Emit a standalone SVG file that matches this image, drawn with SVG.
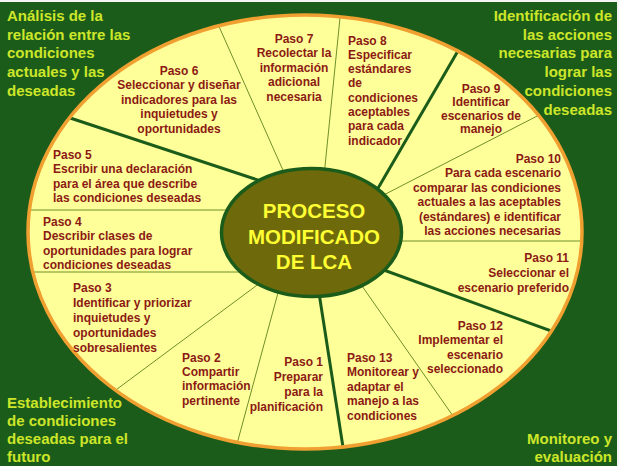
<svg xmlns="http://www.w3.org/2000/svg" width="619" height="466" viewBox="0 0 619 466">
<style>
.t{font-family:"Liberation Sans",Arial,sans-serif;font-weight:bold;font-size:12px;fill:#8b1a14}
.c{font-family:"Liberation Sans",Arial,sans-serif;font-weight:bold;font-size:15px;fill:#cce62a}
.m{font-family:"Liberation Sans",Arial,sans-serif;font-weight:bold;font-size:20.5px;fill:#ffff33;text-anchor:middle}
.thin{stroke:#6f8f2a;stroke-width:1;fill:none}
.thick{stroke:#1c5c1a;stroke-width:3;fill:none}
.mid{text-anchor:middle}
.end{text-anchor:end}
</style>
<defs>
<clipPath id="outerClip"><ellipse cx="305" cy="232" rx="277" ry="217"/></clipPath>
</defs>
<rect x="0" y="0" width="619" height="466" fill="#1c5c1a"/>
<rect x="0" y="0" width="619" height="2" fill="#f4f4f4"/>
<rect x="617" y="0" width="2" height="466" fill="#f4f4f4"/>
<g id="outer">
<ellipse cx="305" cy="232" rx="277" ry="217" fill="#ffff99"/>
</g>
<g id="connectors" clip-path="url(#outerClip)">
<line class="thin" x1="217" y1="22" x2="290" y2="186"/>
<line class="thin" x1="341" y1="8" x2="323" y2="186"/>
<line class="thick" x1="462" y1="44" x2="370" y2="202"/>
<line class="thin" x1="545" y1="112" x2="370" y2="202"/>
<line class="thin" x1="595" y1="241" x2="390" y2="241"/>
<line class="thick" x1="565" y1="336" x2="370" y2="265"/>
<line class="thin" x1="460" y1="426" x2="355" y2="276"/>
<line class="thick" x1="345" y1="460" x2="317" y2="280"/>
<line class="thin" x1="234" y1="455" x2="282" y2="278"/>
<line class="thin" x1="105" y1="398" x2="268" y2="277"/>
<line class="thin" x1="20" y1="272" x2="250" y2="272"/>
<line class="thin" x1="20" y1="210" x2="240" y2="210"/>
<line class="thick" x1="55" y1="113" x2="270" y2="184"/>
</g>
<ellipse cx="305" cy="232" rx="277" ry="217" fill="none" stroke="#f0a030" stroke-width="3.5"/>
<g id="center">
<ellipse cx="311.5" cy="232.5" rx="90" ry="64" fill="#6e6a0c" stroke="#1c5c1a" stroke-width="3.5"/>
<text class="m" x="314" y="218">PROCESO</text>
<text class="m" x="314" y="243.5">MODIFICADO</text>
<text class="m" x="314" y="268.5">DE LCA</text>
</g>
<g id="paso6">
<text class="t mid" x="179" y="74.5">Paso 6</text>
<text class="t mid" x="179" y="89">Seleccionar y diseñar</text>
<text class="t mid" x="179" y="103.5">indicadores para las</text>
<text class="t mid" x="179" y="118">inquietudes y</text>
<text class="t mid" x="179" y="132.5">oportunidades</text>
</g>
<g id="paso7">
<text class="t mid" x="294" y="42.5">Paso 7</text>
<text class="t mid" x="294" y="57">Recolectar la</text>
<text class="t mid" x="294" y="71.5">información</text>
<text class="t mid" x="294" y="86">adicional</text>
<text class="t mid" x="294" y="100.5">necesaria</text>
</g>
<g id="paso8">
<text class="t" x="348" y="44.5">Paso 8</text>
<text class="t" x="348" y="58.8">Especificar</text>
<text class="t" x="348" y="73.1">estándares</text>
<text class="t" x="348" y="87.4">de</text>
<text class="t" x="348" y="101.7">condiciones</text>
<text class="t" x="348" y="116">aceptables</text>
<text class="t" x="348" y="130.3">para cada</text>
<text class="t" x="348" y="144.6">indicador</text>
</g>
<g id="paso9">
<text class="t mid" x="481" y="92.5">Paso 9</text>
<text class="t mid" x="481" y="106">Identificar</text>
<text class="t mid" x="481" y="119.5">escenarios de</text>
<text class="t mid" x="481" y="133">manejo</text>
</g>
<g id="paso10">
<text class="t end" x="561" y="162.5">Paso 10</text>
<text class="t end" x="561" y="177">Para cada escenario</text>
<text class="t end" x="561" y="191.5">comparar las condiciones</text>
<text class="t end" x="561" y="206">actuales a las aceptables</text>
<text class="t end" x="561" y="220.5">(estándares) e identificar</text>
<text class="t end" x="561" y="235">las acciones necesarias</text>
</g>
<g id="paso11">
<text class="t end" x="569" y="261.5">Paso 11</text>
<text class="t end" x="569" y="277">Seleccionar el</text>
<text class="t end" x="569" y="291.5">escenario preferido</text>
</g>
<g id="paso12">
<text class="t end" x="503" y="329.5">Paso 12</text>
<text class="t end" x="503" y="344">Implementar el</text>
<text class="t end" x="503" y="358.5">escenario</text>
<text class="t end" x="503" y="373">seleccionado</text>
</g>
<g id="paso13">
<text class="t" x="347" y="361.5">Paso 13</text>
<text class="t" x="347" y="376">Monitorear y</text>
<text class="t" x="347" y="390.5">adaptar el</text>
<text class="t" x="347" y="405">manejo a las</text>
<text class="t" x="347" y="419.5">condiciones</text>
</g>
<g id="paso1">
<text class="t end" x="323" y="365.5">Paso 1</text>
<text class="t end" x="323" y="380.5">Preparar</text>
<text class="t end" x="323" y="395.5">para la</text>
<text class="t end" x="323" y="410.5">planificación</text>
</g>
<g id="paso2">
<text class="t" x="182" y="361.5">Paso 2</text>
<text class="t" x="182" y="375.5">Compartir</text>
<text class="t" x="182" y="390">información</text>
<text class="t" x="182" y="404.5">pertinente</text>
</g>
<g id="paso3">
<text class="t" x="73" y="291.5">Paso 3</text>
<text class="t" x="73" y="306.5">Identificar y priorizar</text>
<text class="t" x="73" y="321.5">inquietudes y</text>
<text class="t" x="73" y="336.5">oportunidades</text>
<text class="t" x="73" y="351.5">sobresalientes</text>
</g>
<g id="paso4">
<text class="t" x="43" y="225.5">Paso 4</text>
<text class="t" x="43" y="240">Describir clases de</text>
<text class="t" x="43" y="254.5">oportunidades para lograr</text>
<text class="t" x="43" y="269">condiciones deseadas</text>
</g>
<g id="paso5">
<text class="t" x="53" y="158.5">Paso 5</text>
<text class="t" x="53" y="173">Escribir una declaración</text>
<text class="t" x="53" y="187.5">para el área que describe</text>
<text class="t" x="53" y="202">las condiciones deseadas</text>
</g>
<g id="analisis">
<text class="c" x="7" y="21">Análisis de la</text>
<text class="c" x="7" y="39.7">relación entre las</text>
<text class="c" x="7" y="58.4">condiciones</text>
<text class="c" x="7" y="77.1">actuales y las</text>
<text class="c" x="7" y="95.8">deseadas</text>
</g>
<g id="identificacion">
<text class="c end" x="612" y="21">Identificación de</text>
<text class="c end" x="612" y="39.7">las acciones</text>
<text class="c end" x="612" y="58.4">necesarias para</text>
<text class="c end" x="612" y="77.1">lograr las</text>
<text class="c end" x="612" y="95.8">condiciones</text>
<text class="c end" x="612" y="114.5">deseadas</text>
</g>
<g id="establecimiento">
<text class="c" x="7" y="407.5">Establecimiento</text>
<text class="c" x="7" y="425.8">de condiciones</text>
<text class="c" x="7" y="444.1">deseadas para el</text>
<text class="c" x="7" y="462.4">futuro</text>
</g>
<g id="monitoreo">
<text class="c end" x="612" y="444.1">Monitoreo y</text>
<text class="c end" x="612" y="462.4">evaluación</text>
</g>
</svg>
